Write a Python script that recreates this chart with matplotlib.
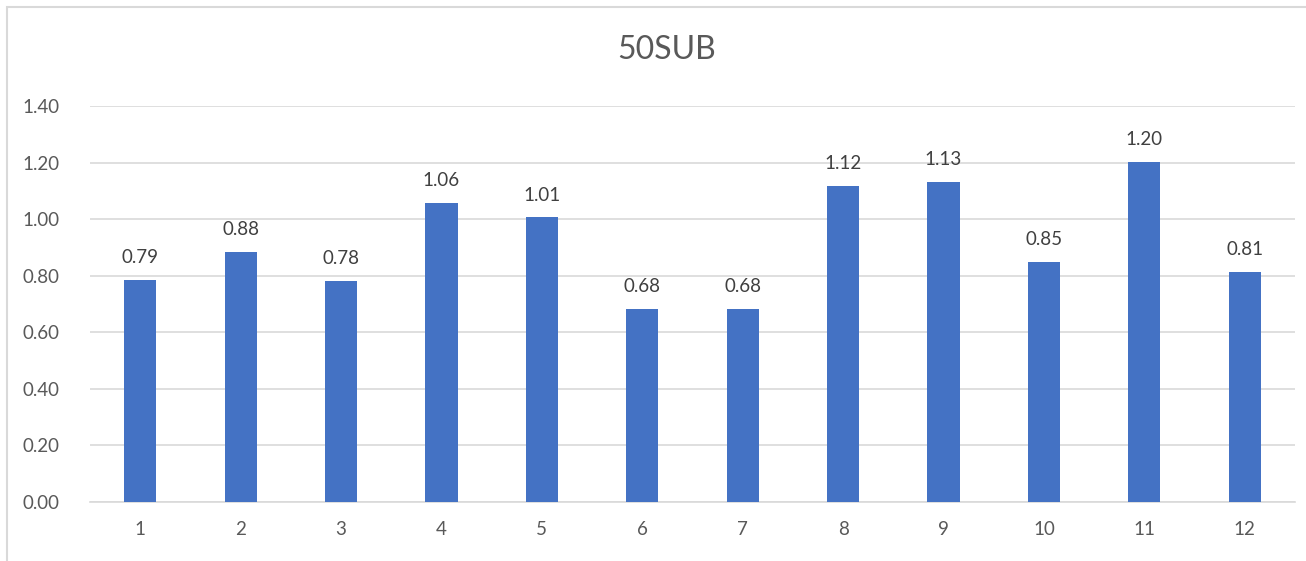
import matplotlib.pyplot as plt
from matplotlib.patches import Rectangle

categories = ['1', '2', '3', '4', '5', '6', '7', '8', '9', '10', '11', '12']
values = [0.786, 0.883, 0.782, 1.056, 1.006, 0.682, 0.682, 1.116, 1.131, 0.848, 1.202, 0.812]
yticks = [0.0, 0.2, 0.4, 0.6, 0.8, 1.0, 1.2, 1.4]

plt.rcParams['font.family'] = ['Lato', 'DejaVu Sans']

W, H = 1306, 561
fig = plt.figure(figsize=(W / 100, H / 100), dpi=100)

# chart border (light grey, runs off right/bottom edges)
fig.patches.append(Rectangle((7 / W, -0.1), 1.2, 1.1 - 7 / H, transform=fig.transFigure,
                             fill=False, edgecolor='#d9d9d9', linewidth=1.5))

ax = fig.add_axes([90 / W, 1 - 502 / H, (1295 - 90) / W, (502 - 106) / H])

x = range(len(categories))
bars = ax.bar(x, values, width=0.32, color='#4472C4', zorder=3)
ax.bar_label(bars, labels=['%.2f' % v for v in values], padding=10,
             fontsize=13.5, color='#404040')

ax.set_xlim(-0.5, len(categories) - 0.5)
ax.set_ylim(0, 1.4)
ax.set_yticks(yticks)
ax.set_yticklabels(['%.2f' % t for t in yticks])
ax.set_xticks(list(x))
ax.set_xticklabels(categories)
ax.tick_params(length=0, labelsize=13.5, labelcolor='#595959')
ax.tick_params(axis='y', pad=22)
ax.tick_params(axis='x', pad=14)

ax.grid(axis='y', color='#d9d9d9', linewidth=1.2, zorder=0)
for s in ['top', 'right', 'left']:
    ax.spines[s].set_visible(False)
ax.spines['bottom'].set_color('#d9d9d9')
ax.spines['bottom'].set_linewidth(1.2)

fig.text(667 / W, 1 - 50 / H, '50SUB', ha='center', va='center', fontsize=23, color='#595959')

fig.savefig('out.png', dpi=100)
